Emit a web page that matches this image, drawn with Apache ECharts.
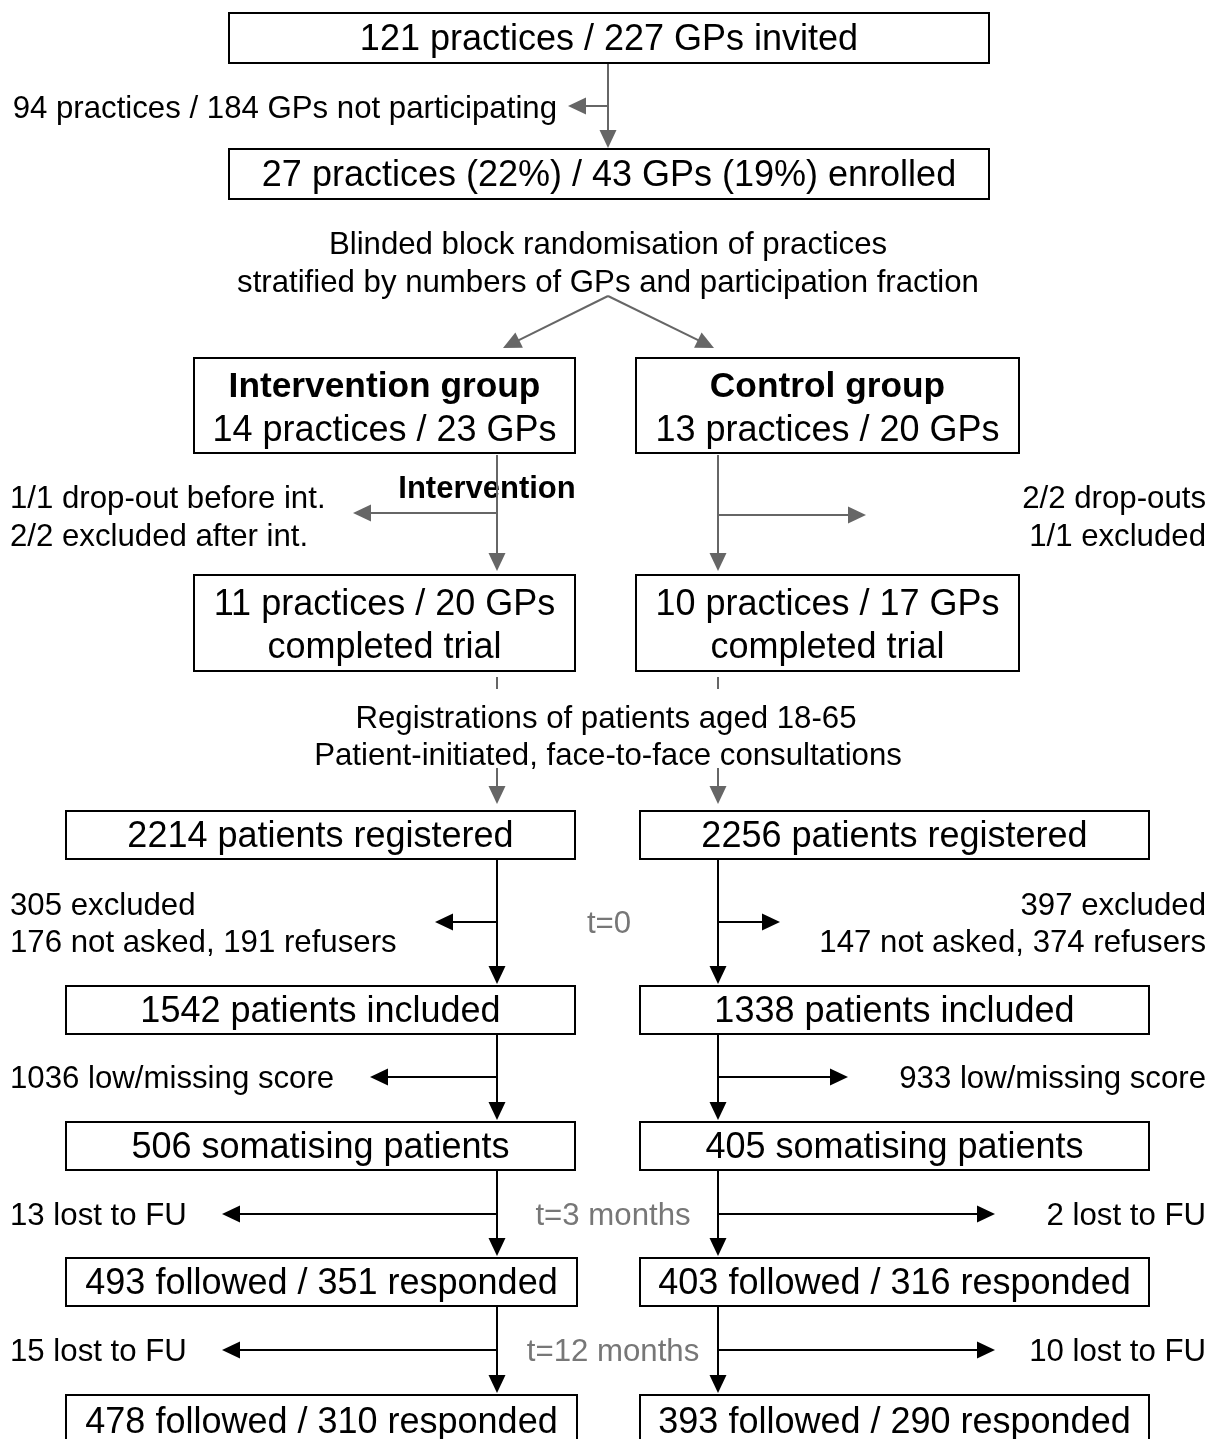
<!DOCTYPE html>
<html>
<head>
<meta charset="utf-8">
<script src="https://cdn.jsdelivr.net/npm/echarts@6/dist/echarts.min.js"></script>
<style>
html,body{margin:0;padding:0;background:#fff;}
#chart{width:1219px;height:1439px;}
</style>
</head>
<body>
<div id="chart"></div>
<script>
// ---------- content ----------
const boxTexts = [
  ["121 practices / 227 GPs invited"],
  ["27 practices (22%) / 43 GPs (19%) enrolled"],
  ["Intervention group", "14 practices / 23 GPs"],
  ["Control group", "13 practices / 20 GPs"],
  ["11 practices / 20 GPs", "completed trial"],
  ["10 practices / 17 GPs", "completed trial"],
  ["2214 patients registered"],
  ["2256 patients registered"],
  ["1542 patients included"],
  ["1338 patients included"],
  ["506 somatising patients"],
  ["405 somatising patients"],
  ["493 followed / 351 responded"],
  ["403 followed / 316 responded"],
  ["478 followed / 310 responded"],
  ["393 followed / 290 responded"]
];
const boxBoldTitle = [false, false, true, true, false, false, false, false, false, false, false, false, false, false, false, false];

const noteTexts = [
  "94 practices / 184 GPs not participating",
  "Blinded block randomisation of practices",
  "stratified by numbers of GPs and participation fraction",
  "1/1 drop-out before int.",
  "2/2 excluded after int.",
  "Intervention",
  "2/2 drop-outs",
  "1/1 excluded",
  "Registrations of patients aged 18-65",
  "Patient-initiated, face-to-face consultations",
  "305 excluded",
  "176 not asked, 191 refusers",
  "t=0",
  "397 excluded",
  "147 not asked, 374 refusers",
  "1036 low/missing score",
  "933 low/missing score",
  "13 lost to FU",
  "t=3 months",
  "2 lost to FU",
  "15 lost to FU",
  "t=12 months",
  "10 lost to FU"
];
const noteKinds = ["n","n","n","n","n","b","n","n","n","n","n","n","g","n","n","n","n","n","g","n","n","g","n"];

// ---------- layout (canvas units on hidden axes) ----------
const boxLayout = [
  [229, 13, 989, 63],
  [229, 149, 989, 199],
  [194, 358, 575, 453],
  [636, 358, 1019, 453],
  [194, 575, 575, 671],
  [636, 575, 1019, 671],
  [66, 811, 575, 859],
  [640, 811, 1149, 859],
  [66, 986, 575, 1034],
  [640, 986, 1149, 1034],
  [66, 1122, 575, 1170],
  [640, 1122, 1149, 1170],
  [66, 1258, 577, 1306],
  [640, 1258, 1149, 1306],
  [66, 1395, 577, 1447],
  [640, 1395, 1149, 1447]
];
const noteLayout = [
  [557, 107], [608, 243], [608, 281], [10, 497], [10, 535], [487, 487],
  [1206, 497], [1206, 535], [606, 717], [608, 754],
  [10, 904], [10, 941], [609, 922], [1206, 904], [1206, 941],
  [10, 1077], [1206, 1077],
  [10, 1214], [613, 1214], [1206, 1214],
  [10, 1350], [613, 1350], [1206, 1350]
];
const noteAlign = ["right","center","center","left","left","center","right","right","center","center",
  "left","left","center","right","right","left","right","left","center","right","left","center","right"];

// connectors: [x1, y1, x2, y2, hasHead]
const greyConnectors = [
  [608, 63, 608, 148, 1],
  [608, 106, 568, 106, 1],
  [608, 296, 503, 348, 1],
  [608, 296, 714, 348, 1],
  [497, 455, 497, 571, 1],
  [497, 513, 353, 513, 1],
  [718, 455, 718, 571, 1],
  [718, 515, 866, 515, 1],
  [497, 677, 497, 689, 0],
  [718, 677, 718, 689, 0],
  [497, 768, 497, 804, 1],
  [718, 768, 718, 804, 1]
];
const blackConnectors = [
  [497, 859, 497, 984, 1],
  [497, 922, 435, 922, 1],
  [718, 859, 718, 984, 1],
  [718, 922, 780, 922, 1],
  [497, 1034, 497, 1120, 1],
  [497, 1077, 370, 1077, 1],
  [718, 1034, 718, 1120, 1],
  [718, 1077, 848, 1077, 1],
  [497, 1170, 497, 1256, 1],
  [497, 1214, 222, 1214, 1],
  [718, 1170, 718, 1256, 1],
  [718, 1214, 995, 1214, 1],
  [497, 1306, 497, 1393, 1],
  [497, 1350, 222, 1350, 1],
  [718, 1306, 718, 1393, 1],
  [718, 1350, 995, 1350, 1]
];

const FONT = '"Liberation Sans", Arial, Helvetica, sans-serif';

function renderBox(params, api) {
  const i = params.dataIndex;
  const p0 = api.coord([api.value(0), api.value(1)]);
  const p1 = api.coord([api.value(2), api.value(3)]);
  const children = [{
    type: 'rect',
    shape: {x: p0[0], y: p0[1], width: p1[0] - p0[0], height: p1[1] - p0[1]},
    style: {fill: '#fff', stroke: '#000', lineWidth: 2}
  }];
  const lines = boxTexts[i];
  const cx = (p0[0] + p1[0]) / 2;
  const cy = (p0[1] + p1[1]) / 2;
  const lh = 43.5;
  lines.forEach(function (t, k) {
    const bold = boxBoldTitle[i] && k === 0;
    children.push({
      type: 'text',
      style: {
        text: t, x: cx, y: cy + (k - (lines.length - 1) / 2) * lh + (lines.length > 1 ? 3.5 : 2.5),
        align: 'center', verticalAlign: 'middle', fill: '#000',
        font: (bold ? 'bold 35.3px ' : '36px ') + FONT
      }
    });
  });
  return {type: 'group', children: children};
}

function renderNote(params, api) {
  const i = params.dataIndex;
  const p = api.coord([api.value(0), api.value(1)]);
  const kind = noteKinds[i];
  return {
    type: 'text',
    style: {
      text: noteTexts[i], x: p[0], y: p[1] + 2,
      align: noteAlign[i], verticalAlign: 'middle',
      fill: kind === 'g' ? '#777' : '#000',
      font: (kind === 'b' ? 'bold 31px ' : '31.2px ') + FONT
    }
  };
}

function makeConnectorRenderer(color) {
  return function (params, api) {
    const a = api.coord([api.value(0), api.value(1)]);
    const b = api.coord([api.value(2), api.value(3)]);
    const head = api.value(4);
    const dx = b[0] - a[0], dy = b[1] - a[1];
    const len = Math.sqrt(dx * dx + dy * dy);
    const ux = dx / len, uy = dy / len;
    const hl = 18, hw = 17;
    const children = [];
    let end = b;
    if (head) {
      end = [b[0] - ux * (hl - 2), b[1] - uy * (hl - 2)];
      const base = [b[0] - ux * hl, b[1] - uy * hl];
      const nx = -uy, ny = ux;
      children.push({
        type: 'polygon',
        shape: {points: [b, [base[0] + nx * hw / 2, base[1] + ny * hw / 2], [base[0] - nx * hw / 2, base[1] - ny * hw / 2]]},
        style: {fill: color}
      });
    }
    children.unshift({
      type: 'line',
      shape: {x1: a[0], y1: a[1], x2: end[0], y2: end[1]},
      style: {stroke: color, lineWidth: 2}
    });
    return {type: 'group', children: children};
  };
}

const chart = echarts.init(document.getElementById('chart'), null, {renderer: 'canvas'});
chart.setOption({
  animation: false,
  backgroundColor: '#fff',
  grid: {left: 0, right: 0, top: 0, bottom: 0},
  xAxis: {type: 'value', min: 0, max: 1219, show: false},
  yAxis: {type: 'value', min: 0, max: 1439, inverse: true, show: false},
  series: [
    {type: 'custom', renderItem: renderNote, data: noteLayout, clip: false, z: 1},
    {type: 'custom', renderItem: makeConnectorRenderer('#666666'), data: greyConnectors, clip: false, z: 2},
    {type: 'custom', renderItem: makeConnectorRenderer('#000000'), data: blackConnectors, clip: false, z: 2},
    {type: 'custom', renderItem: renderBox, data: boxLayout, clip: false, z: 3}
  ]
});
</script>
</body>
</html>
